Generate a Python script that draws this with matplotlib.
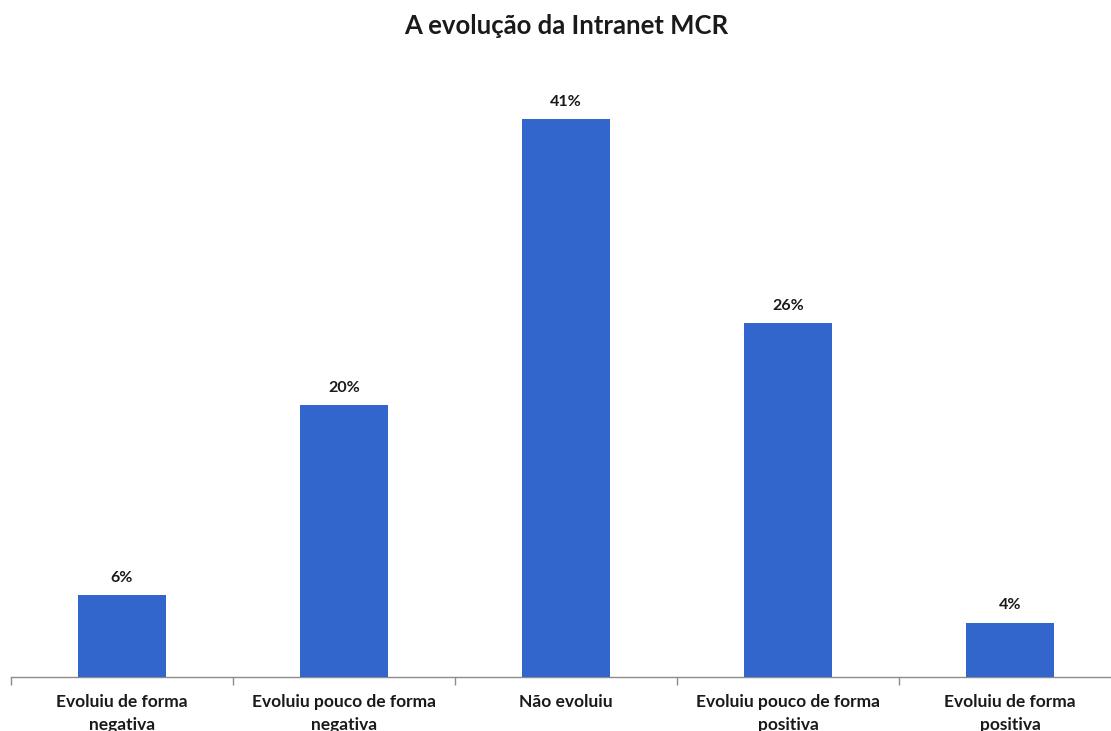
import matplotlib
matplotlib.use("Agg")
import matplotlib.pyplot as plt

plt.rcParams["font.family"] = ["Lato", "DejaVu Sans"]

categorias = ["Evoluiu de forma\nnegativa", "Evoluiu pouco de forma\nnegativa",
              "Não evoluiu", "Evoluiu pouco de forma\npositiva", "Evoluiu de forma\npositiva"]
percentagens = [6, 20, 41, 26, 4]

AZUL = "#3366CC"
CINZA = "#8c8c8c"

fig = plt.figure(figsize=(11.11, 7.31), dpi=100)
ax = fig.add_axes([11 / 1111, 54 / 731, 1110 / 1111, 612 / 731])

x = range(len(percentagens))
barras = ax.bar(x, percentagens, width=0.4, color=AZUL, zorder=3)
for b, v in zip(barras, percentagens):
    ax.text(b.get_x() + b.get_width() / 2, v + 0.75, f"{v}%",
            ha="center", va="bottom", fontsize=11.5, fontweight="bold", color="#1a1a1a")

ax.set_xlim(-0.5, len(percentagens) - 0.5)
ax.set_ylim(0, 45)
ax.set_yticks([])
for s in ("left", "right", "top"):
    ax.spines[s].set_visible(False)
ax.spines["bottom"].set_color(CINZA)
ax.spines["bottom"].set_linewidth(1)

# marcas entre as categorias, rótulos no centro
ax.set_xticks([i - 0.5 for i in range(len(percentagens) + 1)], minor=False)
ax.set_xticklabels([])
ax.tick_params(axis="x", which="major", length=6, color=CINZA, width=1)
ax.set_xticks(list(x), minor=True)
ax.set_xticklabels(categorias, minor=True, fontsize=12.5, fontweight="bold",
                   color="#1a1a1a", linespacing=1.55)
ax.tick_params(axis="x", which="minor", length=0, pad=12)

fig.text(0.51, 1 - 26 / 731, "A evolução da Intranet MCR", ha="center", va="center",
         fontsize=18.5, fontweight="bold", color="#1a1a1a")

fig.savefig("out.png", dpi=100, facecolor="white")
